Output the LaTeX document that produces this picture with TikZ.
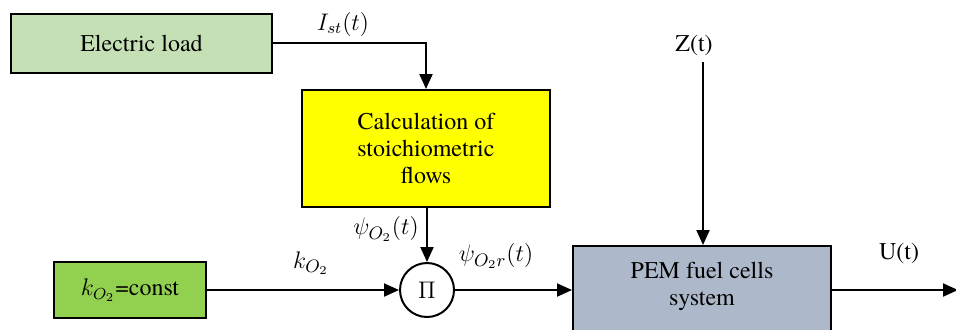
\documentclass[tikz,border=0pt]{standalone}
\usepackage{fontspec}
\setmainfont{texgyretermes}[Extension=.otf, UprightFont=*-regular, ItalicFont=*-italic, BoldFont=*-bold, BoldItalicFont=*-bolditalic]
\usetikzlibrary{arrows.meta}
\definecolor{loadgreen}{HTML}{C5E0B4}
\definecolor{kgreen}{HTML}{92D050}
\definecolor{pemblue}{HTML}{ADB9CA}
\definecolor{calcyellow}{HTML}{FFFF00}
\tikzset{
  blockbox/.style={draw=black, line width=1pt, inner sep=0pt, align=center,
    font=\fontsize{12}{13.5}\selectfont},
  conn/.style={line width=1pt, -{Triangle[length=7.5pt,width=6.5pt]}},
  lbl/.style={inner sep=0pt, font=\fontsize{12}{13.5}\selectfont},
}
\begin{document}
\begin{tikzpicture}[x=0.5pt,y=-0.5pt]
\clip (0,0) rectangle (956,329);
\useasboundingbox (0,0) rectangle (956,329);

\node[blockbox, fill=loadgreen, minimum width=130.5pt, minimum height=29.5pt] (load) at (141.5,43.5) {Electric load};
\node[blockbox, fill=calcyellow, minimum width=124pt, minimum height=58.5pt] (calc) at (426,148.5) {Calculation of\\stoichiometric\\flows};
\node[blockbox, fill=kgreen, minimum width=76pt, minimum height=28pt] (kbox) at (130,290) {$k_{O_2}$=const};
\node[circle, draw=black, line width=1pt, minimum size=27pt, inner sep=0pt, font=\fontsize{12}{13.5}\selectfont] (mult) at (427,290) {$\Pi$};
\node[blockbox, fill=pemblue, minimum width=129pt, minimum height=50pt] (pem) at (702,296) {};
\node[lbl, align=center] (pemtext) at (702,286) {PEM fuel cells\\system};

\coordinate (zstart) at (703,62);
\coordinate (uend) at (958,290);
\coordinate (bend) at (426,43);

\draw[conn] (load.east |- bend) -- (bend) -- (calc.north -| bend);
\draw[conn] (calc.south -| mult.north) -- (mult.north);
\draw[conn] (kbox.east) -- (mult.west);
\draw[conn] (mult.east) -- (mult.east -| pem.west);
\draw[conn] (zstart) -- (pem.north -| zstart);
\draw[conn] (pem.east |- uend) -- (uend);

\node[lbl] (lIst) at (343,24) {$I_{st}(t)$};
\node[lbl, font=\fontsize{13}{14}\selectfont] (lpsi) at (386,229) {$\psi_{O_2}(t)$};
\node[lbl, font=\fontsize{13}{14}\selectfont] (lpsir) at (496,256) {$\psi_{O_2r}(t)$};
\node[lbl, font=\fontsize{13}{14}\selectfont] (lk) at (311,263) {$k_{O_2}$};
\node[lbl] (lZ) at (694,46) {Z(t)};
\node[lbl] (lU) at (899,253) {U(t)};
\end{tikzpicture}
\end{document}
